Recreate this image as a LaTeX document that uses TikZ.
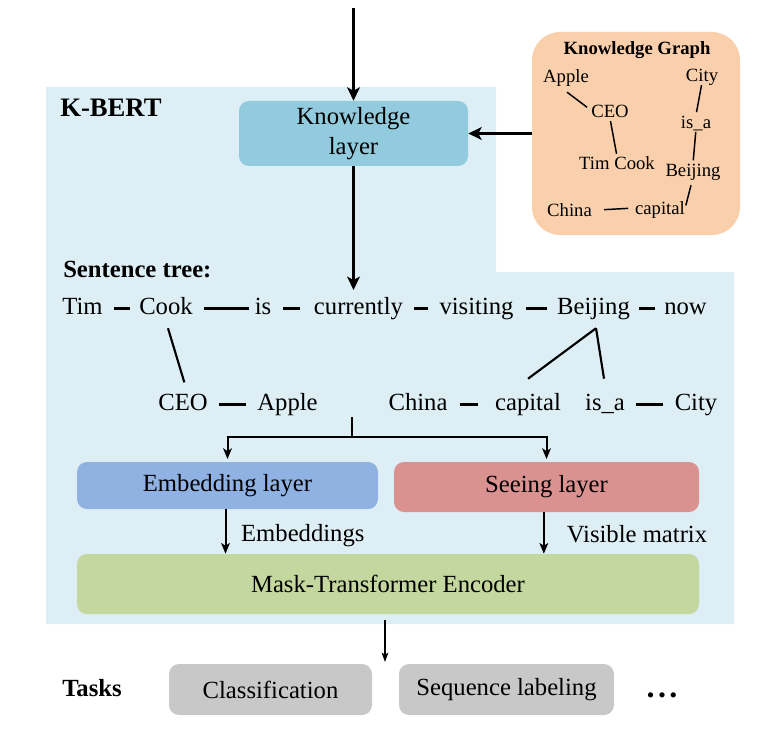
\documentclass[tikz,border=0pt]{standalone}
\usepackage{fontspec}
\setmainfont{Liberation Serif}
\definecolor{bertbg}{RGB}{221, 238, 244}
\definecolor{klayerblue}{RGB}{146, 203, 221}
\definecolor{kgpeach}{RGB}{250, 207, 171}
\definecolor{embedblue}{RGB}{143, 178, 226}
\definecolor{seeingred}{RGB}{218, 146, 145}
\definecolor{encodergreen}{RGB}{196, 215, 158}
\definecolor{taskgray}{RGB}{200, 200, 200}
\usetikzlibrary{arrows.meta}

\tikzset{
    mainfont/.style={font=\fontsize{18.5}{22}\selectfont},
    word/.style={mainfont, inner sep=0pt, text height=10pt, text depth=0pt},
    kgword/.style={font=\fontsize{14}{17}\selectfont, inner sep=0pt, text height=10pt, text depth=0.4pt},
    heading/.style={font=\fontsize{18.5}{22}\selectfont\bfseries, inner sep=0pt, anchor=west},
    layerbox/.style={mainfont, rounded corners=7.5pt, inner sep=0pt, align=center},
    tie/.style={line width=2.2pt, shorten <=8.25pt, shorten >=8.25pt},
    branch/.style={line width=1.6pt},
    kglink/.style={line width=1.1pt, shorten <=2pt, shorten >=2pt},
    bigarrow/.style={line width=2.3pt, -{Stealth[length=10pt, width=9.5pt, inset=2.5pt]}},
    midarrow/.style={line width=1.5pt, -{Stealth[length=8pt, width=6.5pt, inset=2pt]}},
    thinarrow/.style={line width=1.1pt, -{Stealth[length=7pt, width=5pt, inset=1.5pt]}},
    annot/.style={mainfont, inner sep=0pt}
}

\begin{document}
\begin{tikzpicture}[x=0.75pt, y=-0.75pt]
    \useasboundingbox (0,0) rectangle (762,734);

    % K-BERT background
    \fill[bertbg] (46,87) -- (496,87) -- (496,272) -- (734,272) -- (734,624) -- (46,624) -- cycle;
    \node[heading, font=\fontsize{20}{24}\selectfont\bfseries] (kbert) at (60,107.5) {K-BERT};

    % Knowledge layer
    \coordinate (input) at (353.5,8);
    \node[layerbox, fill=klayerblue, minimum width=171.75pt, minimum height=48.75pt] (klayer) at (353.5,133.5) {Knowledge\\layer};
    \draw[bigarrow] (input) -- (klayer.north);

    % Knowledge graph
    \node[fill=kgpeach, rounded corners=21pt, minimum width=156pt, minimum height=152.25pt, inner sep=0pt] (kg) at (636,133.5) {};
    \node[kgword, font=\fontsize{14}{17}\selectfont\bfseries] (kgtitle) at (637,48) {Knowledge Graph};
    \node[kgword] (kgapple) at (566,76.3) {Apple};
    \node[kgword] (kgcity) at (702,75.3) {City};
    \node[kgword] (kgceo) at (610,111.3) {CEO};
    \node[kgword] (kgisa) at (696,122) {is\_a};
    \node[kgword] (kgtimcook) at (617,163.6) {Tim Cook};
    \node[kgword] (kgbeijing) at (693,170.3) {Beijing};
    \node[kgword] (kgchina) at (569.5,210.3) {China};
    \node[kgword] (kgcapital) at (660,208) {capital};
    \draw[line width=1.1pt] ([shift={(0.75pt,-6.5pt)}]kgapple.south) -- ([shift={(-3pt,3pt)}]kgceo.west);
    \draw[kglink] (kgceo.south) -- (kgtimcook.north);
    \draw[kglink] (kgcity.south) -- (kgisa.north);
    \draw[kglink] (kgisa.south) -- (kgbeijing.north);
    \draw[kglink, shorten <=6pt] (kgbeijing.south) -- (kgcapital.east);
    \draw[kglink, shorten <=9pt, shorten >=5pt] (kgchina.east) -- (kgcapital.west);
    \draw[bigarrow] (kg.west) -- (klayer.east);

    % Sentence tree
    \node[heading] (treetitle) at (63,269.5) {Sentence tree:};
    \coordinate (treetop) at (353.5,290);
    \draw[bigarrow] (klayer.south) -- (treetop);

    \node[word] (tim) at (82.5,308.3) {Tim};
    \node[word] (cook) at (166,308.3) {Cook};
    \node[word] (is) at (263,308.3) {is};
    \node[word] (currently) at (358.5,308.3) {currently};
    \node[word] (visiting) at (476.5,308.3) {visiting};
    \node[word] (beijing) at (593.5,308.3) {Beijing};
    \node[word] (now) at (685.5,308.3) {now};
    \draw[tie, shorten >=6.75pt] (tim) -- (cook);
    \draw[tie, shorten >=4.5pt] (cook) -- (is);
    \draw[tie, shorten <=9pt, shorten >=10.5pt] (is) -- (currently);
    \draw[tie] (currently) -- (visiting);
    \draw[tie, shorten <=9pt, shorten >=7.5pt] (visiting) -- (beijing);
    \draw[tie, shorten <=6.75pt, shorten >=6.75pt] (beijing) -- (now);

    \node[word] (ceo) at (183,404.3) {CEO};
    \node[word] (apple) at (287.5,404.3) {Apple};
    \node[word] (china) at (418,404.3) {China};
    \node[word] (capital) at (528,404.3) {capital};
    \node[word] (isa) at (605,404.3) {is\_a};
    \node[word] (city) at (696,404.3) {City};
    \draw[tie] (ceo) -- (apple);
    \draw[tie, shorten <=9pt, shorten >=12.75pt] (china) -- (capital);
    \draw[tie, shorten >=9pt] (isa) -- (city);

    \draw[branch] ([shift={(1.5pt,-9.75pt)}]cook.south) -- ([shift={(1pt,11.25pt)}]ceo.north);
    \draw[branch] ([shift={(1.9pt,-9.75pt)}]beijing.south) -- ([yshift=14pt]capital.north);
    \draw[branch] ([shift={(1.9pt,-9.75pt)}]beijing.south) -- ([shift={(-0.75pt,14pt)}]isa.north);

    % Embedding and seeing layers
    \node[layerbox, fill=embedblue, minimum width=225.75pt, minimum height=35.25pt] (embed) at (227.5,485.5) {Embedding layer};
    \node[layerbox, fill=seeingred, minimum width=228.75pt, minimum height=37.5pt] (seeing) at (546.5,487) {Seeing layer};
    \coordinate (split) at (352,417);
    \coordinate (fork) at (352,437);
    \draw[branch] (split) -- (fork);
    \draw[midarrow, shorten >=2pt] (fork) -| (embed.north);
    \draw[midarrow, shorten >=2pt] (fork) -| (seeing.north);

    % Encoder
    \node[layerbox, fill=encodergreen, minimum width=466.5pt, minimum height=45pt] (encoder) at (388,584) {Mask-Transformer Encoder};
    \draw[midarrow] ([xshift=-1.5pt]embed.south) -- node[annot, right=11pt, yshift=-3pt] (embedlabel) {Embeddings} ([xshift=-1.5pt]embed.south |- encoder.north);
    \draw[midarrow] ([xshift=-2pt]seeing.south) -- node[annot, right=16.5pt, yshift=-1pt] (visiblelabel) {Visible matrix} ([xshift=-2pt]seeing.south |- encoder.north);

    % Tasks
    \coordinate (taskin) at (385,662);
    \draw[thinarrow, shorten <=4.5pt] (encoder.south -| taskin) -- (taskin);
    \node[heading] (tasks) at (62,688) {Tasks};
    \node[layerbox, fill=taskgray, minimum width=152.25pt, minimum height=38.25pt] (classify) at (270.5,689.5) {Classification};
    \node[layerbox, fill=taskgray, minimum width=161.25pt, minimum height=38.25pt] (seqlabel) at (506.5,689.5) {Sequence labeling};
    \node[font=\fontsize{24}{28}\selectfont\bfseries, inner sep=0pt, anchor=base] (moretasks) at (662,697) {.\kern2.6pt.\kern2.6pt.};
\end{tikzpicture}
\end{document}
